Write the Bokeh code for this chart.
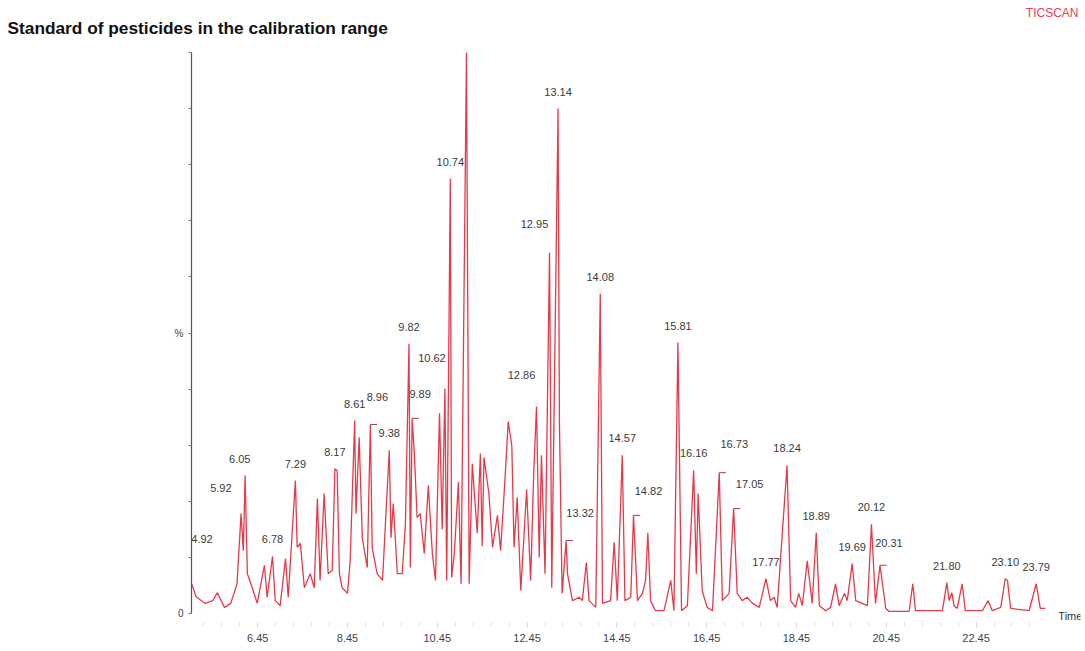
from bokeh.plotting import figure
from bokeh.models import Range1d, FixedTicker, Label, LabelSet, ColumnDataSource, Title
from bokeh.core.properties import value
from bokeh.embed import file_html
from bokeh.resources import INLINE

# ---- data (time in min, intensity in %) ----
rt = [4.98, 5.08, 5.28, 5.45, 5.55, 5.71, 5.85, 5.99, 6.08, 6.13, 6.17, 6.22, 6.33, 6.44,
      6.60, 6.66, 6.78, 6.84, 6.95, 7.07, 7.13, 7.29, 7.33, 7.40, 7.49, 7.62, 7.71, 7.78,
      7.84, 7.93, 8.02, 8.11, 8.17, 8.22, 8.27, 8.33, 8.45, 8.51, 8.61, 8.64, 8.71, 8.78,
      8.89, 8.96, 9.00, 9.11, 9.23, 9.38, 9.42, 9.47, 9.56, 9.67, 9.74, 9.82, 9.85, 9.89,
      9.94, 10.00, 10.07, 10.16, 10.25, 10.34, 10.41, 10.50, 10.56, 10.62, 10.66, 10.74,
      10.77, 10.83, 10.92, 10.98, 11.10, 11.16, 11.23, 11.34, 11.41, 11.45, 11.49, 11.60,
      11.68, 11.79, 11.86, 11.96, 12.03, 12.11, 12.16, 12.23, 12.31, 12.44, 12.53, 12.60,
      12.66, 12.72, 12.77, 12.85, 12.95, 13.00, 13.14, 13.17, 13.23, 13.32, 13.35, 13.46,
      13.61, 13.68, 13.77, 13.83, 13.98, 14.08, 14.13, 14.31, 14.39, 14.46, 14.57, 14.63,
      14.76, 14.82, 14.91, 15.02, 15.09, 15.14, 15.20, 15.31, 15.50, 15.65, 15.72, 15.81,
      15.89, 16.02, 16.16, 16.22, 16.26, 16.35, 16.46, 16.58, 16.73, 16.80, 16.95, 17.05,
      17.13, 17.24, 17.35, 17.47, 17.62, 17.77, 17.87, 17.95, 18.02, 18.17, 18.24, 18.32,
      18.43, 18.50, 18.58, 18.69, 18.80, 18.89, 18.96, 19.10, 19.21, 19.32, 19.40, 19.52,
      19.58, 19.69, 19.77, 20.03, 20.12, 20.21, 20.31, 20.44, 20.51, 20.96, 21.04, 21.10,
      21.70, 21.80, 21.85, 21.91, 21.96, 22.03, 22.14, 22.21, 22.59, 22.72, 22.81, 23.00,
      23.10, 23.15, 23.22, 23.63, 23.79, 23.88, 23.99]
intensity = [5.3, 3.0, 1.8, 2.3, 3.7, 1.1, 1.8, 5.3, 17.8, 11.2, 24.6, 7.1, 4.6, 1.8,
             8.6, 2.9, 10.2, 2.3, 1.4, 9.8, 2.9, 23.7, 11.8, 12.5, 4.6, 7.1, 4.6, 20.5,
             5.9, 21.4, 7.1, 7.7, 25.8, 25.5, 7.1, 4.6, 3.6, 9.4, 34.4, 17.8, 31.4, 13.5,
             8.2, 33.7, 11.8, 7.1, 5.9, 29.1, 13.5, 19.6, 7.1, 7.1, 16.0, 48.1, 8.2, 34.8,
             28.5, 17.1, 17.8, 10.7, 22.8, 10.7, 5.9, 35.7, 15.0, 40.1, 5.9, 77.5,
             6.4, 10.7, 23.4, 5.3, 100.0, 5.3, 26.7, 14.3, 28.5, 12.0, 27.8, 21.4,
             11.8, 17.5, 11.2, 24.2, 34.2, 29.9, 11.8, 20.7, 4.1, 22.1, 5.9, 25.5,
             36.9, 10.0, 28.2, 7.1, 64.3, 4.6, 90.0, 34.4, 3.6, 13.0, 7.1, 2.3,
             2.9, 2.3, 9.1, 2.3, 1.1, 57.0, 1.8, 2.3, 12.7, 2.3, 28.2, 2.3,
             2.9, 17.5, 2.3, 3.6, 5.9, 14.4, 2.3, 0.5, 0.5, 5.9, 0.5, 48.3,
             0.5, 1.4, 25.5, 7.1, 21.4, 4.1, 1.1, 0.5, 25.1, 2.3, 3.6, 18.7,
             3.6, 2.3, 2.9, 1.8, 1.1, 6.2, 2.3, 2.9, 1.1, 18.4, 26.4, 2.3,
             1.1, 3.6, 1.4, 9.4, 1.8, 14.4, 1.4, 0.5, 1.1, 5.3, 1.4, 3.6,
             2.3, 8.9, 2.3, 1.4, 15.9, 1.8, 8.6, 0.9, 0.4, 0.4, 5.3, 0.5,
             0.5, 5.5, 2.3, 3.7, 1.4, 0.9, 5.3, 0.5, 0.5, 2.3, 0.5, 1.1,
             6.2, 5.9, 0.9, 0.5, 5.3, 0.9, 0.9]

peak_labels = ["4.92", "5.92", "6.05", "6.78", "7.29", "8.17", "8.61", "8.96", "9.38",
               "9.82", "9.89", "10.62", "10.74", "12.86", "12.95", "13.14", "13.32",
               "14.08", "14.57", "14.82", "15.81", "16.16", "16.73", "17.05", "17.77",
               "18.24", "18.89", "19.69", "20.12", "20.31", "21.80", "23.10", "23.79"]
peak_heights = [5.3, 17.8, 24.6, 10.2, 23.7, 25.8, 34.4, 33.7, 29.1,
                48.1, 34.8, 40.1, 77.5, 36.9, 64.3, 90.0, 13.0,
                57.0, 28.2, 17.5, 48.3, 25.5, 25.1, 18.7, 6.2,
                26.4, 14.4, 8.9, 15.9, 8.6, 5.5, 6.2, 5.3]
hooked_peaks = ["8.96", "9.89", "13.32", "14.82", "16.73", "17.05", "20.31"]

x_tick_labels = ["6.45", "8.45", "10.45", "12.45", "14.45", "16.45", "18.45", "20.45", "22.45"]
y_tick_values = [0, 10, 20, 30, 40, 50, 60, 70, 80, 90, 100]

title_text = "Standard of pesticides in the calibration range"
scan_text = "TICSCAN"
x_axis_text = "Time"

# ---- layout tweaks for label placement (pixels: right, up) ----
label_shift = {"4.92": (13, 45), "5.92": (-13, 26), "8.96": (7, 27), "9.89": (8, 24),
               "10.62": (-13, 31), "12.86": (-24, 32), "12.95": (-15, 29),
               "13.32": (14, 28), "14.82": (15, 24), "16.73": (15, 29),
               "17.05": (16, 25), "20.31": (9, 22)}

FONT = "Liberation Sans"
RED = "#e23b4a"

p = figure(width=1085, height=646, output_backend="svg", toolbar_location=None,
           title=None, x_range=Range1d(4.976, 24.776), y_range=Range1d(-1.6, 100),
           min_border_left=191, min_border_right=5, min_border_top=52,
           min_border_bottom=24)
p.outline_line_color = None
p.grid.visible = False
p.background_fill_color = "white"

p.line(rt, intensity, color=RED, line_width=1.3)

peak_rt = [float(s) for s in peak_labels]
src = ColumnDataSource(dict(
    x=peak_rt, y=peak_heights, text=peak_labels,
    dx=[label_shift.get(s, (0, 17))[0] for s in peak_labels],
    dy=[label_shift.get(s, (0, 17))[1] for s in peak_labels],
))
p.add_layout(LabelSet(x="x", y="y", text="text", source=src, x_offset="dx", y_offset="dy",
                      text_align="center", text_baseline="middle",
                      text_font=value(FONT), text_font_size="11px", text_color="#3a3a3a"))

hx = [float(s) for s in hooked_peaks]
hy = [peak_heights[peak_labels.index(s)] for s in hooked_peaks]
p.segment(x0=hx, y0=hy, x1=[v + 0.15 for v in hx], y1=hy, color="#9a4050", line_width=1)

# axes
xt = [float(s) for s in x_tick_labels]
minor = [round(4.85 + 0.4 * i, 2) for i in range(49) if 4.976 < 4.85 + 0.4 * i < 24.0]
p.xaxis.ticker = FixedTicker(ticks=xt, minor_ticks=minor)
p.xaxis.major_label_overrides = {v: s for v, s in zip(xt, x_tick_labels)}
p.xaxis.axis_line_color = None
p.xaxis.major_tick_line_color = "#c8c8c8"
p.xaxis.minor_tick_line_color = "#dddddd"
p.xaxis.major_tick_out = 5
p.xaxis.major_tick_in = 0
p.xaxis.minor_tick_out = 4
p.xaxis.minor_tick_in = 0
p.xaxis.major_label_standoff = 6
p.xaxis.major_label_text_font = FONT
p.xaxis.major_label_text_font_size = "11px"
p.xaxis.major_label_text_color = "#444444"

p.yaxis.ticker = FixedTicker(ticks=y_tick_values)
p.yaxis.major_label_overrides = {v: ("0" if v == 0 else "%" if v == 50 else "") for v in y_tick_values}
p.yaxis.bounds = (0, 100)
p.yaxis.axis_line_color = "#555555"
p.yaxis.axis_line_width = 1.2
p.yaxis.major_tick_line_color = "#777777"
p.yaxis.major_tick_out = 3
p.yaxis.major_tick_in = 0
p.yaxis.minor_tick_line_color = None
p.yaxis.major_label_standoff = 5
p.yaxis.major_label_text_font = FONT
p.yaxis.major_label_text_font_size = "10px"
p.yaxis.major_label_text_color = "#444444"

# texts above the frame
p.add_layout(Title(text=title_text, align="left", offset=-184, standoff=30,
                   text_font=FONT, text_font_size="17.3px", text_font_style="bold",
                   text_color="#111111"), "above")
p.add_layout(Title(text=scan_text, align="right", offset=2, standoff=-38,
                   text_font=FONT, text_font_size="12px", text_font_style="normal",
                   text_color="#e0405a"), "above")
p.add_layout(Label(x=24.55, y=-0.4, text=x_axis_text, text_align="center", text_baseline="middle",
                   text_font=FONT, text_font_size="11px", text_color="#333333"))

open("out.html", "w").write(file_html(p, INLINE))
